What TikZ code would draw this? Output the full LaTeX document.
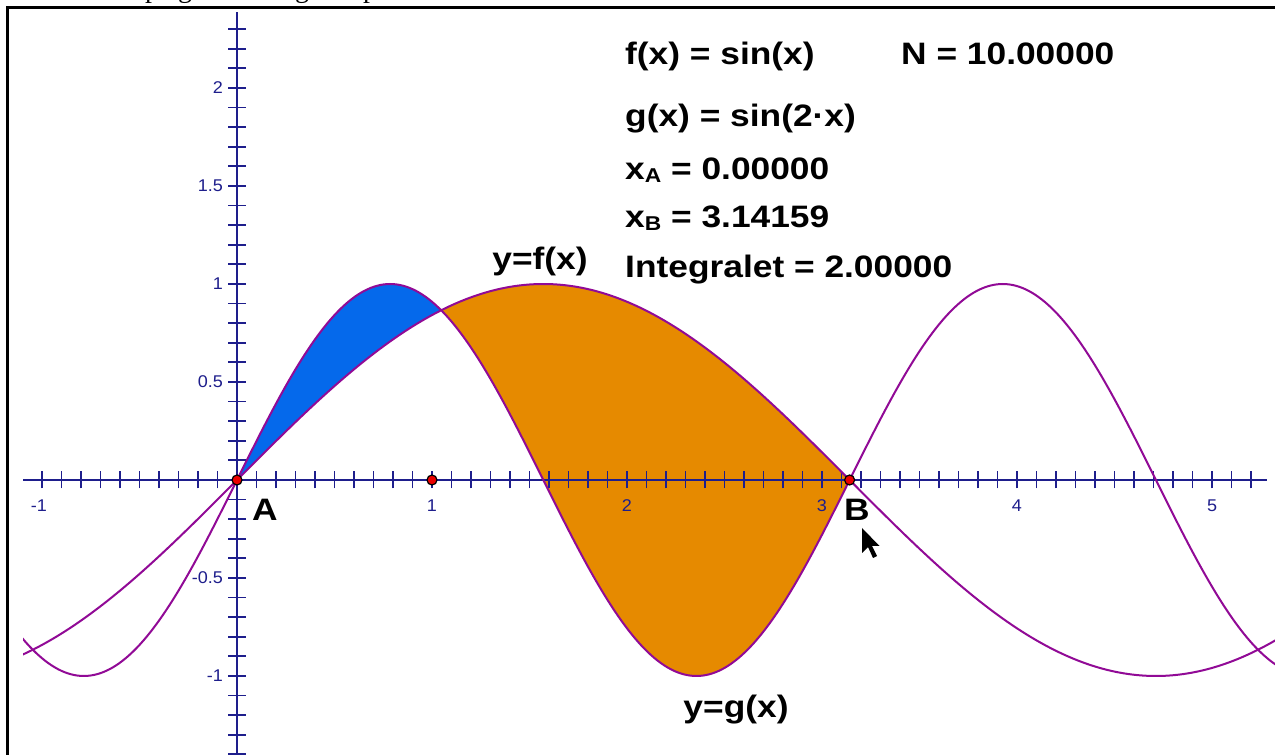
\documentclass[tikz,border=0pt]{standalone}
\usepackage{fontspec}
\usepackage{graphicx}
\setmainfont{Liberation Sans}
\newfontfamily\serifface{Liberation Serif}
\definecolor{axiscol}{RGB}{30,30,140}
\definecolor{curvecol}{RGB}{145,10,150}
\definecolor{bluefill}{RGB}{5,105,235}
\definecolor{orangefill}{RGB}{230,138,0}
\definecolor{ptred}{RGB}{235,0,0}
\tikzset{
  bigtext/.style={font=\fontsize{31}{36}\selectfont\bfseries, inner sep=0pt, text=black},
  axlabel/.style={font=\fontsize{17}{20}\selectfont, text=axiscol, inner sep=0pt},
  axisline/.style={draw=axiscol, line width=2pt},
  tickline/.style={draw=axiscol, line width=1.8pt},
  curve/.style={draw=curvecol, line width=2pt},
  ptmark/.style={circle, fill=ptred, draw=black, line width=1.2pt, minimum size=10pt, inner sep=0pt},
}
\newcommand{\widetxt}[1]{\scalebox{1.14}[1]{#1}}
\newcommand{\axtxt}[1]{\scalebox{1.06}[1]{#1}}
\newcommand{\subA}[1]{\raisebox{-3pt}{\fontsize{20}{20}\selectfont #1}}
\begin{document}
\begin{tikzpicture}[x=1pt,y=1pt]
\useasboundingbox (0,0) rectangle (1275,755);
\fill[white] (0,0) rectangle (1275,755);
% partial serif text above the frame (only descenders visible)
\begin{scope}
\clip (0,0) rectangle (1275,755);
\foreach \gx/\gl [count=\k] in {152/p,185/g,302/g,370/p}
  \node[font=\serifface\fontsize{28}{30}\selectfont, anchor=base, inner sep=0pt] (top\k) at (\gx,757) {\gl};
\end{scope}
% frame
\draw[line width=2.5pt] (7.5,0) -- (7.5,747.5) -- (1275,747.5);
% plot
\begin{scope}[x=195pt,y=196pt,shift={(237pt,275pt)}]
  \begin{scope}
    \clip (-1.097,-1.41) rectangle (5.33,2.39);
    \fill[bluefill] plot[domain=0:1.0472,samples=50] (\x,{sin(2*\x r)}) -- plot[domain=1.0472:0,samples=50] (\x,{sin(\x r)}) -- cycle;
    \fill[orangefill] plot[domain=1.0472:3.14159,samples=80] (\x,{sin(\x r)}) -- plot[domain=3.14159:1.0472,samples=80] (\x,{sin(2*\x r)}) -- cycle;
    % axes
    \draw[axisline] (-1.097,0) -- (5.282,0);
    \draw[axisline] (0,-1.45) -- (0,2.388);
    \foreach \i in {-10,...,52} \draw[tickline] (\i/10,-8.5/196) -- (\i/10,8.5/196);
    \foreach \j in {-14,...,23} \draw[tickline] (-9/195,\j/10) -- (9/195,\j/10);
    % curves
    \draw[curve] plot[domain=-1.2:5.4,samples=260,smooth] (\x,{sin(\x r)});
    \draw[curve] plot[domain=-1.2:5.4,samples=400,smooth] (\x,{sin(2*\x r)});
  \end{scope}
  % axis labels
  \node[axlabel] (xl-1) at (-1-3/195,-25.5/196) {\axtxt{-1}};
  \foreach \v in {1,2,3,4,5} \node[axlabel] (xl\v) at (\v,-25.5/196) {\axtxt{\v}};
  \foreach \v/\t in {2/2,1.5/1.5,1/1,0.5/0.5,-0.5/-0.5,-1/-1}
    \node[axlabel, anchor=east] (yl\t) at (-14/195,\v) {\axtxt{\t}};
  % points
  \node[ptmark] (A) at (0,0) {};
  \node[ptmark] (P1) at (1,0) {};
  \node[ptmark] (B) at (3.14159,0) {};
\end{scope}
% point labels
\node[bigtext] (Alab) at (265,245) {\widetxt{A}};
\node[bigtext] (Blab) at (857,245) {\widetxt{B}};
% curve labels
\node[bigtext] (flab) at (540,494) {\widetxt{y=f(x)}};
\node[bigtext] (glab) at (736,45) {\widetxt{y=g(x)}};
% info text
\node[bigtext, anchor=base west] (t1) at (625,690) {\widetxt{f(x) = sin(x)}};
\node[bigtext, anchor=base west] (t2) at (901,690) {\widetxt{N = 10.00000}};
\node[bigtext, anchor=base west] (t3) at (625,628) {\widetxt{g(x) = sin(2·x)}};
\node[bigtext, anchor=base west] (t4) at (625,575) {\widetxt{x\subA{A} = 0.00000}};
\node[bigtext, anchor=base west] (t5) at (625,527) {\widetxt{x\subA{B} = 3.14159}};
\node[bigtext, anchor=base west] (t6) at (625,477) {\widetxt{Integralet = 2.00000}};
% mouse cursor
\fill[black] (862,227) -- ++(0,-25) -- ++(6,6) -- ++(5,-11) -- ++(4,2) -- ++(-5,10) -- ++(7.5,0) -- cycle;
\end{tikzpicture}
\end{document}
